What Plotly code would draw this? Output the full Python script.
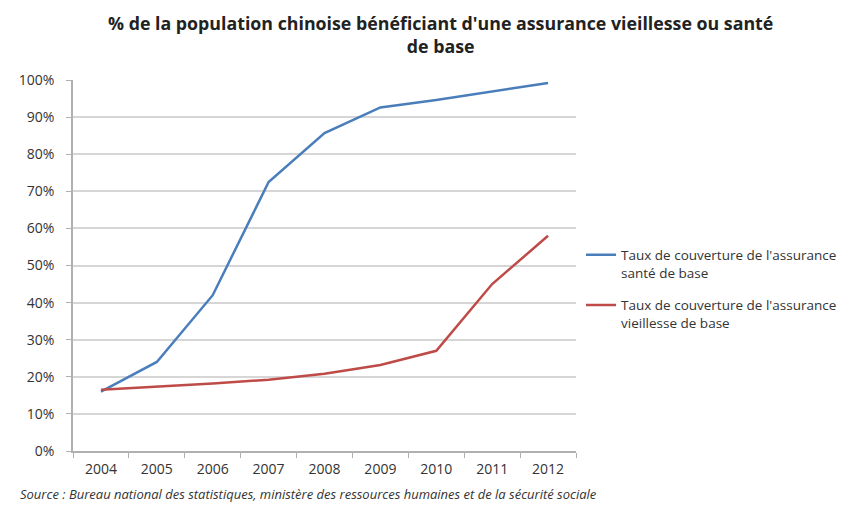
import plotly.graph_objects as go

years = ["2004", "2005", "2006", "2007", "2008", "2009", "2010", "2011", "2012"]
sante = [0.16, 0.24, 0.42, 0.725, 0.857, 0.926, 0.946, 0.968, 0.992]
vieillesse = [0.165, 0.173, 0.182, 0.192, 0.208, 0.232, 0.27, 0.45, 0.58]

name_sante = "Taux de couverture de l'assurance<br>santé de base"
name_vieillesse = "Taux de couverture de l'assurance<br>vieillesse de base"
title_text = ("% de la population chinoise bénéficiant d'une assurance vieillesse ou santé"
              "<br>de base")
source_text = ("Source : Bureau national des statistiques, ministère des ressources "
               "humaines et de la sécurité sociale")

font_family = "Open Sans, Liberation Sans, sans-serif"

fig = go.Figure()
fig.add_trace(go.Scatter(x=years, y=sante, mode="lines", name=name_sante,
                         legendgroup="sante",
                         line=dict(color="#4a7ebb", width=2.5)))
fig.add_trace(go.Scatter(x=years, y=vieillesse, mode="lines", name=name_vieillesse,
                         legendgroup="vieillesse",
                         line=dict(color="#be4b48", width=2.5)))

fig.update_layout(
    width=854, height=509,
    margin=dict(l=73, r=276, t=80, b=58),
    paper_bgcolor="white", plot_bgcolor="white",
    font=dict(family=font_family, size=12, color="#333"),
    showlegend=True,
    legend=dict(x=1.01, xanchor="left", y=0.57, yanchor="top",
                font=dict(size=13.5, color="#333"), valign="top",
                tracegroupgap=12, itemwidth=30, bgcolor="rgba(0,0,0,0)"),
    xaxis=dict(type="category", range=[-0.5, 8.5], tickson="boundaries",
               showline=True, linecolor="#b0b0b0", linewidth=1.5,
               ticks="outside", ticklen=5, tickcolor="#b0b0b0",
               ticklabelstandoff=4,
               showgrid=False, tickfont=dict(size=14, color="#333")),
    yaxis=dict(range=[0, 1], tickvals=[i / 10 for i in range(11)],
               tickformat=".0%", showline=True, linecolor="#b0b0b0", linewidth=1.5,
               ticks="outside", ticklen=5, tickcolor="#b0b0b0",
               ticklabelstandoff=9,
               showgrid=True, gridcolor="#d6d6d6", gridwidth=2,
               zeroline=False, tickfont=dict(size=14, color="#333")),
    annotations=[
        dict(text="<b>" + title_text + "</b>", xref="paper", yref="paper",
             x=0.731, xanchor="center", y=1.0 + 46 / 371, yanchor="middle",
             showarrow=False, align="center",
             font=dict(family=font_family, size=17.8, color="#222")),
        dict(text="<i>" + source_text + "</i>", xref="paper", yref="paper",
             x=-55 / 505, xanchor="left", y=-43 / 371, yanchor="middle",
             showarrow=False, font=dict(size=13, color="#333")),
    ],
)

fig.write_html("out.html")
